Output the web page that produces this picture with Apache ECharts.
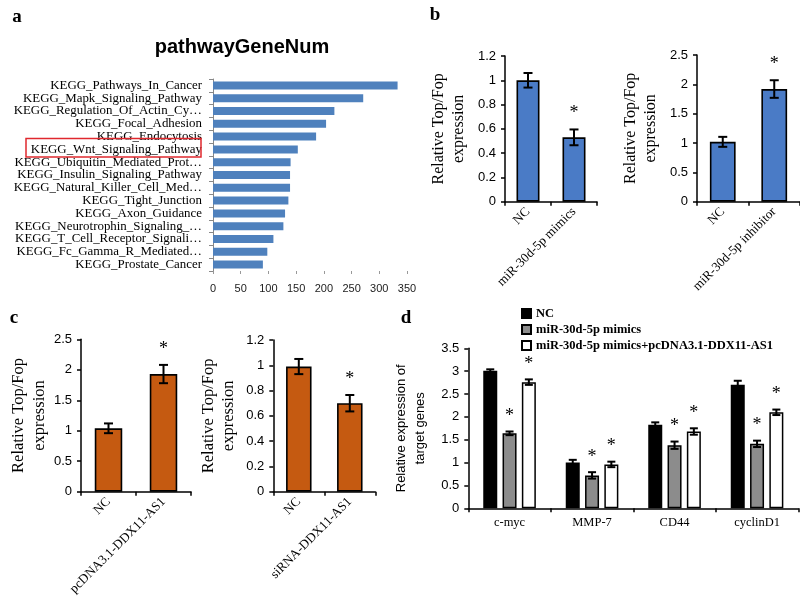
<!DOCTYPE html>
<html><head><meta charset="utf-8">
<script src="https://cdn.jsdelivr.net/npm/echarts@6/dist/echarts.min.js"></script>
<style>html,body{margin:0;padding:0;background:#fff}#c{width:800px;height:597px}</style>
</head><body><div id="c"></div>
<script>
// ---- Panel a data ----
const pathwayNames = ['KEGG_Pathways_In_Cancer','KEGG_Mapk_Signaling_Pathway','KEGG_Regulation_Of_Actin_Cy…','KEGG_Focal_Adhesion','KEGG_Endocytosis','KEGG_Wnt_Signaling_Pathway','KEGG_Ubiquitin_Mediated_Prot…','KEGG_Insulin_Signaling_Pathway','KEGG_Natural_Killer_Cell_Med…','KEGG_Tight_Junction','KEGG_Axon_Guidance','KEGG_Neurotrophin_Signaling_…','KEGG_T_Cell_Receptor_Signali…','KEGG_Fc_Gamma_R_Mediated…','KEGG_Prostate_Cancer'];
const pathwayGeneNum = [333,271,219,204,186,153,140,139,139,136,130,127,109,98,90];
const geneNumTicks = [0,50,100,150,200,250,300,350];
// ---- Panel b data ----
const bMimicCats = ['NC','miR-30d-5p mimics'];
const bMimicMean = [1.0,0.53];
const bMimicErr = [0.06,0.065];
const bMimicSig = [0,1];
const bInhCats = ['NC','miR-30d-5p inhibitor'];
const bInhMean = [1.02,1.92];
const bInhErr = [0.085,0.15];
const bInhSig = [0,1];
// ---- Panel c data ----
const cOverCats = ['NC','pcDNA3.1-DDX11-AS1'];
const cOverMean = [1.04,1.93];
const cOverErr = [0.08,0.15];
const cOverSig = [0,1];
const cSiCats = ['NC','siRNA-DDX11-AS1'];
const cSiMean = [0.99,0.70];
const cSiErr = [0.06,0.065];
const cSiSig = [0,1];
// ---- Panel d data ----
const dGenes = ['c-myc','MMP-7','CD44','cyclinD1'];
const dSeriesNames = ['NC','miR-30d-5p mimics','miR-30d-5p mimics+pcDNA3.1-DDX11-AS1'];
const dNC = [3.01,1.0,1.83,2.70];
const dNCErr = [0.03,0.06,0.05,0.09];
const dMimic = [1.64,0.72,1.38,1.41];
const dMimicErr = [0.04,0.07,0.08,0.07];
const dRescue = [2.76,0.96,1.68,2.10];
const dRescueErr = [0.06,0.06,0.07,0.06];
const dMimicSig = [1,1,1,1];
const dRescueSig = [1,1,1,1];

const SERIF = '"Liberation Serif","Times New Roman",serif';
const SANS = '"Liberation Sans",Arial,sans-serif';

const chart = echarts.init(document.getElementById('c'), null, {renderer:'canvas'});

function errRender(offset, capW, starGap){
  return function(params, api){
    const ci = api.value(0), m = api.value(1), e = api.value(2), s = api.value(3);
    const top = api.coord([ci, m+e]);
    const bot = api.coord([ci, m-e]);
    const x = top[0] + offset;
    const st = {stroke:'#000', lineWidth:2};
    const ch = [
      {type:'line', shape:{x1:x,y1:top[1],x2:x,y2:bot[1]}, style:st},
      {type:'line', shape:{x1:x-capW/2,y1:top[1],x2:x+capW/2,y2:top[1]}, style:st},
      {type:'line', shape:{x1:x-capW/2,y1:bot[1],x2:x+capW/2,y2:bot[1]}, style:st}
    ];
    if (s) ch.push({type:'text', x:x, y:top[1]-starGap, style:{text:'*', fill:'#000', font:'18px '+SERIF, align:'center', verticalAlign:'middle'}});
    return {type:'group', children:ch};
  };
}

const grids = [
  {left:213, top:79, width:194, height:192},
  {left:505, top:56, width:92, height:145.7},
  {left:697, top:55, width:103, height:146.7},
  {left:81, top:339.3, width:110, height:152.4},
  {left:273.3, top:340, width:102, height:151.7},
  {left:468.3, top:348.3, width:330, height:160}
].map(g => Object.assign({outerBoundsMode:'none', containLabel:false}, g));

const yName = 'Relative Top/Fop\nexpression';
function catX(gi, cats){
  return {type:'category', gridIndex:gi, data:cats,
    axisLine:{lineStyle:{color:'#000', width:1.5}},
    axisTick:{show:true, alignWithLabel:false, length:4, lineStyle:{color:'#000', width:1.5}},
    axisLabel:{interval:0, rotate:45, margin:8, fontFamily:SERIF, fontSize:13, color:'#000'}};
}
function valY(gi, max, interval, name, gap, nameFont, nameSize, lh){
  return {type:'value', gridIndex:gi, min:0, max:max, interval:interval,
    name:name, nameLocation:'middle', nameRotate:90, nameGap:gap,
    nameTextStyle:{fontFamily:nameFont, fontSize:nameSize, color:'#000', lineHeight:lh},
    axisLine:{show:true, lineStyle:{color:'#000', width:1.5}},
    axisTick:{show:true, length:4, lineStyle:{color:'#000', width:1.5}},
    splitLine:{show:false},
    axisLabel:{margin:9, fontFamily:SANS, fontSize:13, color:'#000',
      formatter: v => String(+v.toFixed(2))}};
}

const xAxes = [
  {type:'value', gridIndex:0, min:geneNumTicks[0], max:geneNumTicks[geneNumTicks.length-1], interval:geneNumTicks[1]-geneNumTicks[0],
   axisLine:{show:false}, axisTick:{show:true, length:3, lineStyle:{color:'#999'}}, splitLine:{show:false},
   axisLabel:{margin:12, fontFamily:SANS, fontSize:11, color:'#222'}},
  catX(1, bMimicCats), catX(2, bInhCats), catX(3, cOverCats), catX(4, cSiCats),
  {type:'category', gridIndex:5, data:dGenes,
   axisLine:{lineStyle:{color:'#000', width:1.5}},
   axisTick:{show:true, alignWithLabel:false, length:4, lineStyle:{color:'#000', width:1.5}},
   axisLabel:{interval:0, margin:8, fontFamily:SERIF, fontSize:12.5, color:'#000'}}
];
const yAxes = [
  {type:'category', gridIndex:0, data:pathwayNames, inverse:true,
   axisLine:{show:true, lineStyle:{color:'#888', width:1}},
   axisTick:{show:true, length:4, alignWithLabel:false, lineStyle:{color:'#888'}},
   axisLabel:{interval:0, margin:11, fontFamily:SERIF, fontSize:12.9, color:'#000'}},
  valY(1, 1.2, 0.2, yName, 36, SERIF, 16, 20),
  valY(2, 2.5, 0.5, yName, 36, SERIF, 16, 20),
  valY(3, 2.5, 0.5, yName, 21, SERIF, 16.5, 21),
  valY(4, 1.2, 0.2, yName, 35, SERIF, 16.5, 20),
  valY(5, 3.5, 0.5, 'Relative expression of\ntarget genes', 38, SANS, 13, 19)
];

const series = [];
series.push({type:'bar', xAxisIndex:0, yAxisIndex:0, data:pathwayGeneNum, barWidth:8,
  itemStyle:{color:'#4F81BD'}, silent:true});

function simple(gi, mean, err, sig, color){
  series.push({type:'bar', xAxisIndex:gi, yAxisIndex:gi, data:mean, barWidth:'50%',
    itemStyle:{color:color, borderColor:'#000', borderWidth:1.6}});
  series.push({type:'custom', xAxisIndex:gi, yAxisIndex:gi, z:5,
    renderItem: errRender(0, 9, 16),
    encode:{x:0, y:1},
    data: mean.map((m,i)=>[i, m, err[i], sig[i]])});
}
simple(1, bMimicMean, bMimicErr, bMimicSig, '#4A7BC6');
simple(2, bInhMean, bInhErr, bInhSig, '#4A7BC6');
simple(3, cOverMean, cOverErr, cOverSig, '#C55A11');
simple(4, cSiMean, cSiErr, cSiSig, '#C55A11');

const dBarW = 14, dGap = 5.3;
const dCols = ['#000000','#8C8C8C','#FFFFFF'];
const dMeans = [dNC, dMimic, dRescue];
const dErrs = [dNCErr, dMimicErr, dRescueErr];
const dSigs = [[0,0,0,0], dMimicSig, dRescueSig];
dMeans.forEach((arr, k) => {
  series.push({type:'bar', name:dSeriesNames[k], xAxisIndex:5, yAxisIndex:5, data:arr,
    barWidth:dBarW, barGap:(dGap/dBarW*100)+'%', barCategoryGap:'37%',
    itemStyle:{color:dCols[k], borderColor:'#000', borderWidth:1.5}});
});
dMeans.forEach((arr, k) => {
  series.push({type:'custom', xAxisIndex:5, yAxisIndex:5, z:5,
    renderItem: errRender((k-1)*(dBarW+dGap), 8, 15),
    encode:{x:0, y:1},
    data: arr.map((m,i)=>[i, m, dErrs[k][i], dSigs[k][i]])});
});

const txt = (t, x, y, font, align) => ({type:'text', x:x, y:y, style:{text:t, font:font, fill:'#000', align:align||'center', verticalAlign:'middle'}});

chart.setOption({
  animation:false,
  backgroundColor:'#fff',
  grid: grids,
  xAxis: xAxes,
  yAxis: yAxes,
  legend:{data:dSeriesNames, orient:'vertical', left:521, top:307, itemWidth:9, itemHeight:9, itemGap:3,
    icon:'rect', padding:0,
    textStyle:{fontFamily:SERIF, fontWeight:'bold', fontSize:12.5, color:'#000'}},
  series: series,
  graphic: [
    txt('a', 17, 17, 'bold 19px '+SERIF),
    txt('b', 435, 15, 'bold 19px '+SERIF),
    txt('c', 14, 318, 'bold 19px '+SERIF),
    txt('d', 406, 318, 'bold 19px '+SERIF),
    txt('pathwayGeneNum', 242, 47, 'bold 20px '+SANS),
    {type:'rect', shape:{x:26, y:138.5, width:175, height:18.5}, style:{fill:null, stroke:'#E0282E', lineWidth:1.5}, z:10}
  ]
});
</script></body></html>
